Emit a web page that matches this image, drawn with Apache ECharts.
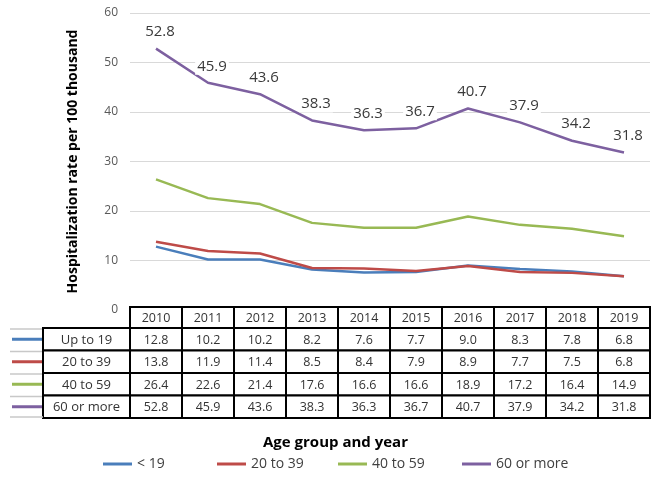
<!DOCTYPE html>
<html>
<head>
<meta charset="utf-8">
<script src="https://cdn.jsdelivr.net/npm/echarts@6/dist/echarts.min.js"></script>
<style>
html,body{margin:0;padding:0;background:#fff;}
#main{width:656px;height:477px;}
</style>
</head>
<body>
<div id="main"></div>
<script>
var years = ['2010','2011','2012','2013','2014','2015','2016','2017','2018','2019'];
var seriesNames = ['< 19', '20 to 39', '40 to 59', '60 or more'];
var rowLabels = ['Up to 19', '20 to 39', '40 to 59', '60 or more'];
var upTo19   = [12.8, 10.2, 10.2, 8.2, 7.6, 7.7, 9.0, 8.3, 7.8, 6.8];
var age20to39 = [13.8, 11.9, 11.4, 8.5, 8.4, 7.9, 8.9, 7.7, 7.5, 6.8];
var age40to59 = [26.4, 22.6, 21.4, 17.6, 16.6, 16.6, 18.9, 17.2, 16.4, 14.9];
var age60plus = [52.8, 45.9, 43.6, 38.3, 36.3, 36.7, 40.7, 37.9, 34.2, 31.8];
var yTicks = [0, 10, 20, 30, 40, 50, 60];

var allValues = [upTo19, age20to39, age40to59, age60plus];
var colors = ['#4a7ebb', '#be4b48', '#98b954', '#7d60a0'];
var FONT = 'Open Sans';

var gridLeft = 130, gridRight = 6, gridTop = 13, gridBottom = 167;

var chart = echarts.init(document.getElementById('main'));

var series = allValues.map(function (vals, i) {
  var s = {
    name: seriesNames[i],
    type: 'line',
    data: vals,
    showSymbol: false,
    symbol: 'none',
    lineStyle: { width: 2.5, color: colors[i] },
    itemStyle: { color: colors[i] },
    z: 2 + i
  };
  if (i === 3) {
    s.showSymbol = true;
    s.symbol = 'circle';
    s.symbolSize = 0.01;
    s.label = {
      show: true,
      position: 'top',
      distance: 8,
      offset: [4, 0],
      fontFamily: FONT,
      fontSize: 15,
      color: '#3a3a3a',
      backgroundColor: '#fff',
      padding: [1, 2],
      formatter: function (p) { return p.value.toFixed(1); }
    };
  }
  return s;
});

var legendLefts = [98, 212, 333, 457];
var legends = seriesNames.map(function (n, i) {
  return {
    data: [n],
    left: legendLefts[i],
    top: 452,
    icon: 'rect',
    itemWidth: 29,
    itemHeight: 3,
    itemGap: 0,
    selectedMode: false,
    textStyle: { fontFamily: FONT, fontSize: 14, color: '#404040' }
  };
});

chart.setOption({
  animation: false,
  backgroundColor: '#fff',
  textStyle: { fontFamily: FONT },
  title: {
    text: 'Age group and year',
    left: 258,
    top: 430,
    textStyle: { fontFamily: FONT, fontSize: 15, fontWeight: 'bold', color: '#000' }
  },
  legend: legends,
  grid: { left: gridLeft, right: gridRight, top: gridTop, bottom: gridBottom },
  xAxis: {
    type: 'category',
    data: years,
    boundaryGap: true,
    axisLine: { show: false },
    axisTick: { show: false },
    axisLabel: { show: false }
  },
  yAxis: {
    type: 'value',
    min: yTicks[0],
    max: yTicks[yTicks.length - 1],
    interval: yTicks[1] - yTicks[0],
    name: 'Hospitalization rate per 100 thousand',
    nameLocation: 'middle',
    nameGap: 50,
    nameTextStyle: { fontFamily: FONT, fontSize: 14, fontWeight: 'bold', color: '#000' },
    axisLine: { show: false },
    axisTick: { show: false },
    axisLabel: { fontFamily: FONT, fontSize: 12, color: '#595959', margin: 12 },
    splitLine: { lineStyle: { color: '#d9d9d9', width: 1 } }
  },
  series: series
});

// Build the data table below the plot, aligned with the category axis.
function buildTable() {
  var x0 = chart.convertToPixel({ xAxisIndex: 0 }, years[0]);
  var x1 = chart.convertToPixel({ xAxisIndex: 0 }, years[1]);
  var colW = x1 - x0;
  var tableLeft = x0 - colW / 2;
  var headerTop = 307, headerH = 21, rowH = 22.5;
  var labelLeft = 43, keyLeft = 10;
  var txt = '#333';
  var els = [];
  years.forEach(function (y, i) {
    els.push({ type: 'rect', shape: { x: tableLeft + i * colW, y: headerTop, width: colW, height: headerH },
      style: { fill: '#fff', stroke: '#000', lineWidth: 2 }, z: 10 });
    els.push({ type: 'text', x: tableLeft + i * colW + colW / 2, y: headerTop + headerH / 2 + 1,
      style: { text: y, fontFamily: FONT, fontSize: 12.5, fill: txt, align: 'center', verticalAlign: 'middle' }, z: 11 });
  });
  var rowsTop = headerTop + headerH;
  allValues.forEach(function (vals, r) {
    var ry = rowsTop + r * rowH;
    els.push({ type: 'line', shape: { x1: keyLeft, y1: ry + 1, x2: labelLeft, y2: ry + 1 },
      style: { stroke: '#c8c8c8', lineWidth: 1.5 }, z: 10 });
    els.push({ type: 'line', shape: { x1: 12, y1: ry + rowH / 2, x2: 42, y2: ry + rowH / 2 },
      style: { stroke: colors[r], lineWidth: 3 }, z: 11 });
    els.push({ type: 'rect', shape: { x: labelLeft, y: ry, width: tableLeft - labelLeft, height: rowH },
      style: { fill: '#fff', stroke: '#000', lineWidth: 2 }, z: 10 });
    els.push({ type: 'text', x: (labelLeft + tableLeft) / 2, y: ry + rowH / 2 + 1,
      style: { text: rowLabels[r], fontFamily: FONT, fontSize: 13, fill: txt, align: 'center', verticalAlign: 'middle' }, z: 11 });
    vals.forEach(function (v, i) {
      els.push({ type: 'rect', shape: { x: tableLeft + i * colW, y: ry, width: colW, height: rowH },
        style: { fill: '#fff', stroke: '#000', lineWidth: 2 }, z: 10 });
      els.push({ type: 'text', x: tableLeft + i * colW + colW / 2, y: ry + rowH / 2 + 1,
        style: { text: v.toFixed(1), fontFamily: FONT, fontSize: 12.5, fill: txt, align: 'center', verticalAlign: 'middle' }, z: 11 });
    });
  });
  var lastY = rowsTop + allValues.length * rowH;
  els.push({ type: 'line', shape: { x1: keyLeft, y1: lastY - 1, x2: labelLeft, y2: lastY - 1 },
    style: { stroke: '#c8c8c8', lineWidth: 1.5 }, z: 10 });
  chart.setOption({ graphic: { elements: els } });
}
buildTable();
</script>
</body>
</html>
